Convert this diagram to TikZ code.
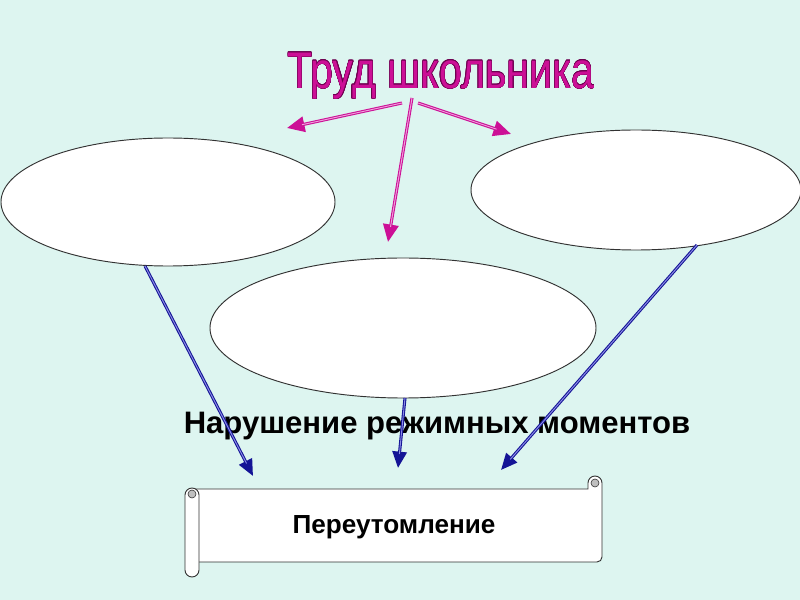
\documentclass[tikz,border=0pt]{standalone}
\usepackage{fontspec}
\setmainfont{Liberation Sans}
\usepackage[copies]{contour}
\usetikzlibrary{arrows.meta,shapes.geometric}
\definecolor{bg}{RGB}{221,245,240}
\definecolor{mag}{RGB}{204,16,150}
\definecolor{magdark}{RGB}{110,0,80}
\definecolor{maglight}{RGB}{240,160,220}
\definecolor{navy}{RGB}{20,20,150}
\definecolor{navylight}{RGB}{140,140,230}
\definecolor{edge}{RGB}{50,50,50}
\contourlength{0.35pt}
\begin{document}
\begin{tikzpicture}[x=0.03cm,y=-0.03cm,
  oval/.style={ellipse,draw=edge,fill=white,line width=0.8pt,inner sep=0pt},
  scrollpart/.style={draw=edge,fill=white,line width=0.8pt},
  magarrow/.style={draw=mag,line width=2.6pt,-{Triangle[length=15pt,width=13pt]}},
  maginner/.style={draw=maglight,line width=0.8pt,shorten >=13pt},
  bluearrow/.style={draw=navy,line width=2.6pt,-{Triangle[length=14pt,width=12pt]}},
  blueinner/.style={draw=navylight,line width=0.8pt,shorten >=12pt}]
\fill[bg] (0,0) rectangle (800,600);
\useasboundingbox (0,0) rectangle (800,600);
% ellipses
\node[oval,minimum width=10.02cm,minimum height=3.84cm] (E1) at (168,202) {};
\node[oval,minimum width=9.9cm,minimum height=3.6cm] (E2) at (636,190) {};
\node[oval,minimum width=11.58cm,minimum height=4.2cm] (E3) at (403,328) {};
% title
\node (T) at (441,76) {\scalebox{0.8}[1]{\fontsize{44pt}{44pt}\selectfont\contour{magdark}{\textcolor{mag}{Труд школьника}}}};
% text
\node (N) at (437,426) {\fontsize{26.5pt}{30pt}\selectfont\bfseries Нарушение режимных моментов};
% scroll
\draw[scrollpart]
  (192,489) -- (588,489) -- (588,483) arc[start angle=180,end angle=360,radius=7]
  -- (602,557) arc[start angle=0,end angle=90,radius=5] -- (192,562) -- cycle;
\draw[scrollpart]
  (185,495) arc[start angle=180,end angle=360,radius=7] -- (199,570)
  arc[start angle=0,end angle=180,radius=7] -- cycle;
\draw[draw=edge,fill=gray!50,line width=0.5pt] (595,483) circle[radius=4];
\draw[draw=edge,fill=gray!50,line width=0.5pt] (192,494) circle[radius=4];
\node (P) at (394,527) {\fontsize{22.3pt}{26pt}\selectfont\bfseries Переутомление};
% magenta arrows
\coordinate (t1) at (402,103);
\coordinate (t2) at (412,98);
\coordinate (t3) at (418,103);
\coordinate (m1) at (287,128);
\coordinate (m2) at (388,242);
\coordinate (m3) at (511,134);
\foreach \s/\e in {t1/m1,t2/m2,t3/m3}{
  \draw[magarrow] (\s) -- (\e);
  \draw[maginner] (\s) -- (\e);
}
% blue arrows
\coordinate (b1s) at (145,266);
\coordinate (b2s) at (405,398);
\coordinate (b3s) at (697,245);
\coordinate (b1) at (253,476);
\coordinate (b2) at (398,468);
\coordinate (b3) at (501,470);
\foreach \s/\e in {b1s/b1,b2s/b2,b3s/b3}{
  \draw[bluearrow] (\s) -- (\e);
  \draw[blueinner] (\s) -- (\e);
}
\end{tikzpicture}
\end{document}
